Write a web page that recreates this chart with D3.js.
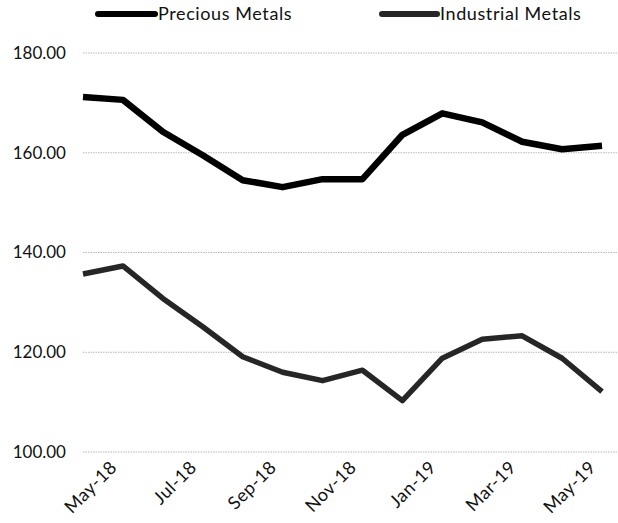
<!DOCTYPE html>
<html>
<head>
<meta charset="utf-8">
<script src="https://cdn.jsdelivr.net/npm/d3@7"></script>
<style>
  html, body { margin: 0; padding: 0; background: #fff; }
  svg { display: block; font-family: Lato, "Noto Sans", sans-serif; }
</style>
</head>
<body>
<svg id="chart" width="618" height="523"></svg>
<script>
// Monthly index levels, Apr-18 .. May-19
const months = ["Apr-18","May-18","Jun-18","Jul-18","Aug-18","Sep-18","Oct-18",
                "Nov-18","Dec-18","Jan-19","Feb-19","Mar-19","Apr-19","May-19"];
const preciousMetals   = [171.2,170.6,164.2,159.5,154.5,153.1,154.7,154.7,163.6,167.9,166.1,162.2,160.7,161.4];
const industrialMetals = [135.7,137.3,130.8,125.1,119.1,116.0,114.3,116.4,110.3,118.8,122.6,123.3,118.8,112.1];
const xTickLabels = ["May-18","Jul-18","Sep-18","Nov-18","Jan-19","Mar-19","May-19"];
const yTicks = [100,120,140,160,180];
const seriesNames = ["Precious Metals","Industrial Metals"];

const svg = d3.select("#chart");

const x = d3.scalePoint().domain(months).range([83, 602]);
const y = d3.scaleLinear().domain([100, 180]).range([452, 53]);

// dotted horizontal gridlines
svg.append("g").selectAll("line").data(yTicks).join("line")
  .attr("x1", 83).attr("x2", 618)
  .attr("y1", d => y(d)).attr("y2", d => y(d))
  .attr("stroke", "#b8b8b8").attr("stroke-width", 1)
  .attr("stroke-dasharray", "1.5,1");

// y-axis labels
const yAxis = d3.axisLeft(y).tickValues(yTicks).tickFormat(d3.format(".2f")).tickSize(0).tickPadding(0);
svg.append("g").attr("transform", "translate(66,0)").call(yAxis)
  .call(g => g.select(".domain").remove())
  .selectAll("text")
  .attr("font-size", 17).attr("fill", "#111").attr("font-family", "Lato, 'Noto Sans', sans-serif");

// x-axis labels, rotated
const xAxis = d3.axisBottom(x).tickValues(xTickLabels).tickSize(0).tickPadding(0);
svg.append("g").attr("transform", "translate(0,462)").call(xAxis)
  .call(g => g.select(".domain").remove())
  .selectAll("text")
  .attr("font-size", 18).attr("fill", "#111").attr("font-family", "Lato, 'Noto Sans', sans-serif")
  .attr("letter-spacing", "0.5px")
  .attr("text-anchor", "end")
  .attr("dy", "0.35em")
  .attr("transform", "translate(-10,2) rotate(-45)");

const line = d3.line().x((d, i) => x(months[i])).y(d => y(d));

const styles = [
  { color: "#000", width: 6.5 },
  { color: "#262626", width: 5.5 }
];

[preciousMetals, industrialMetals].forEach((vals, k) => {
  svg.append("path").datum(vals)
    .attr("d", line)
    .attr("fill", "none")
    .attr("stroke", styles[k].color)
    .attr("stroke-width", styles[k].width)
    .attr("stroke-linejoin", "round");
});

// legend
const legendPos = [{ x1: 98, x2: 155 }, { x1: 382, x2: 437 }];
const legend = svg.append("g");
seriesNames.forEach((name, k) => {
  legend.append("line")
    .attr("x1", legendPos[k].x1).attr("x2", legendPos[k].x2)
    .attr("y1", 14).attr("y2", 14)
    .attr("stroke", styles[k].color).attr("stroke-width", 6)
    .attr("stroke-linecap", "round");
  legend.append("text")
    .attr("x", legendPos[k].x2 + 3).attr("y", 20)
    .attr("font-size", 18).attr("fill", "#111")
    .attr("letter-spacing", "0.6px")
    .text(name);
});
</script>
</body>
</html>
